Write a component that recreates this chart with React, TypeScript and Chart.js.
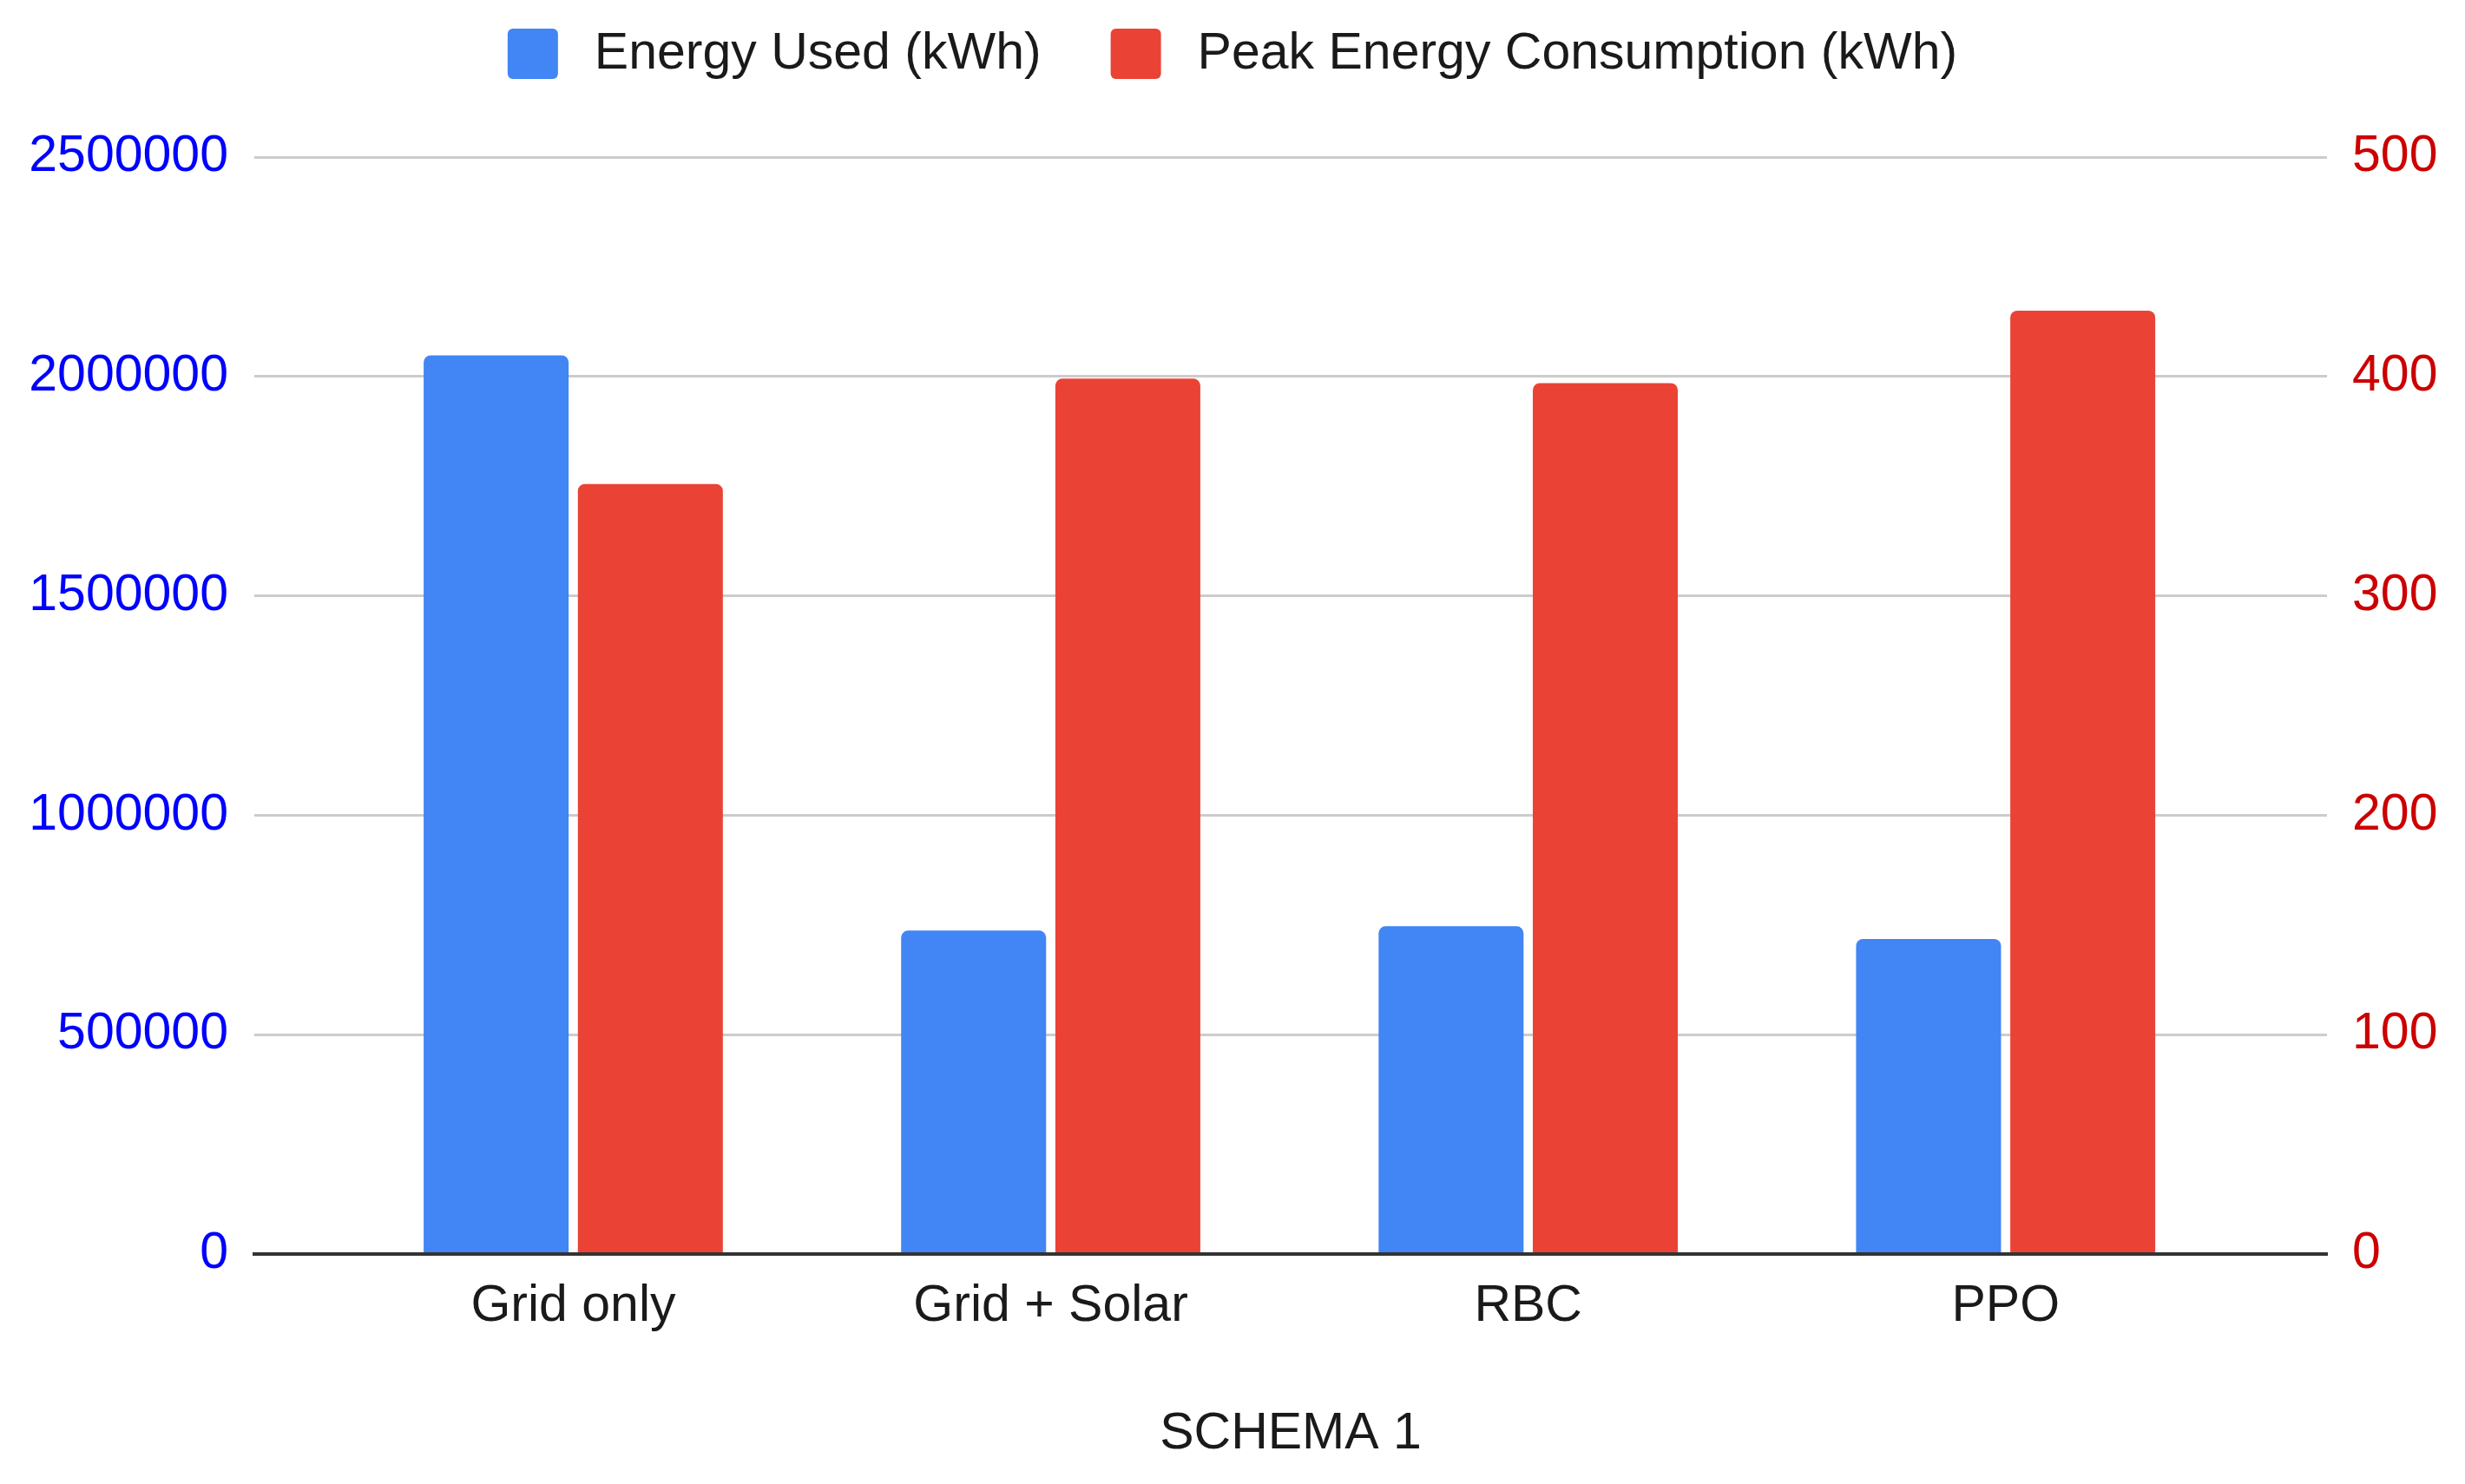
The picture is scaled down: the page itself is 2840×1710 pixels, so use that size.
import React, { useEffect, useRef } from 'react';
import { Chart, registerables } from 'chart.js';

Chart.register(...registerables);

// ---- data ----
const categories = ['Grid only', 'Grid + Solar', 'RBC', 'PPO'];
const energyUsed = [2048000, 737000, 747000, 718000];
const peakEnergy = [351, 399, 397, 430];
const leftTicks = [0, 500000, 1000000, 1500000, 2000000, 2500000];
const rightTicks = [0, 100, 200, 300, 400, 500];
const seriesLabels = ['Energy Used (kWh)', 'Peak Energy Consumption (kWh)'];
const xTitle = 'SCHEMA 1';

const FONT_FAMILY = '"Liberation Sans", Arial, sans-serif';
const FONT_SIZE = 59;
const BLUE = '#4285F4';
const RED = '#EA4335';
const TEXT = '#1a1a1a';

const legendPlugin = {
  id: 'sheetLegend',
  afterDraw(chart: any) {
    const { ctx } = chart;
    const box = 58;
    const textGap = 42;
    const itemGap = 80;
    const cy = 62;
    ctx.save();
    ctx.font = `${FONT_SIZE}px ${FONT_FAMILY}`;
    ctx.textBaseline = 'middle';
    ctx.textAlign = 'left';
    const items = chart.data.datasets.map((ds: any) => ({
      text: String(ds.label),
      color: ds.backgroundColor as string,
    }));
    const widths = items.map((it: any) => box + textGap + ctx.measureText(it.text).width);
    const total = widths.reduce((a: number, b: number) => a + b, 0) + itemGap * (items.length - 1);
    let x = (chart.width - total) / 2;
    items.forEach((it: any, i: number) => {
      ctx.fillStyle = it.color;
      ctx.beginPath();
      if (ctx.roundRect) ctx.roundRect(x, cy - box / 2, box, box, 6);
      else ctx.rect(x, cy - box / 2, box, box);
      ctx.fill();
      ctx.fillStyle = TEXT;
      ctx.fillText(it.text, x + box + textGap, cy + 1);
      x += widths[i] + itemGap;
    });
    ctx.restore();
  },
};

export default function App() {
  const ref = useRef<HTMLCanvasElement>(null);

  useEffect(() => {
    const font = { family: FONT_FAMILY, size: FONT_SIZE };
    const chart = new Chart(ref.current as HTMLCanvasElement, {
      type: 'bar',
      data: {
        datasets: [
          {
            label: seriesLabels[0],
            data: energyUsed.map((v, i) => ({ x: i, y: v })),
            backgroundColor: BLUE,
            yAxisID: 'yLeft',
            borderRadius: 8,
            categoryPercentage: 0.646,
            barPercentage: 0.94,
          },
          {
            label: seriesLabels[1],
            data: peakEnergy.map((v, i) => ({ x: i, y: v })),
            backgroundColor: RED,
            yAxisID: 'yRight',
            borderRadius: 8,
            categoryPercentage: 0.646,
            barPercentage: 0.94,
          },
        ],
      } as any,
      options: {
        animation: false,
        responsive: true,
        maintainAspectRatio: false,
        devicePixelRatio: 1,
        layout: { padding: { top: 181, left: 0, right: 0, bottom: 0 } },
        plugins: {
          legend: { display: false },
          tooltip: { enabled: false },
        },
        scales: {
          x: {
            type: 'linear',
            position: 'bottom',
            min: -0.668,
            max: 3.673,
            offset: false,
            grid: { display: false, drawTicks: false },
            border: { display: true, color: '#333333', width: 4, z: 1 },
            afterBuildTicks: (s: any) => {
              s.ticks = categories.map((_, i) => ({ value: i }));
            },
            ticks: {
              autoSkip: false,
              maxRotation: 0,
              minRotation: 0,
              padding: 25,
              color: TEXT,
              font,
              callback: (v: any) => categories[v as number] ?? '',
            },
            title: {
              display: true,
              text: xTitle,
              color: TEXT,
              font,
              padding: { top: 76.8, bottom: 21.6 },
            },
            afterFit: (s: any) => {
              s.height = 265;
            },
          },
          yLeft: {
            type: 'linear',
            position: 'left',
            min: 0,
            max: 2500000,
            afterBuildTicks: (s: any) => {
              s.ticks = leftTicks.map((v) => ({ value: v }));
            },
            grid: {
              color: (c: any) => (c.tick && c.tick.value === 0 ? 'rgba(0,0,0,0)' : '#cccccc'),
              lineWidth: 3,
              drawTicks: false,
            },
            border: { display: false },
            ticks: {
              autoSkip: false,
              color: '#0000ff',
              padding: 30,
              font,
              callback: (v: any) => String(v),
            },
            afterFit: (s: any) => {
              s.width = 293;
            },
          },
          yRight: {
            type: 'linear',
            position: 'right',
            min: 0,
            max: 500,
            afterBuildTicks: (s: any) => {
              s.ticks = rightTicks.map((v) => ({ value: v }));
            },
            grid: { display: false, drawTicks: false },
            border: { display: false },
            ticks: {
              autoSkip: false,
              color: '#cc0000',
              padding: 29,
              font,
              callback: (v: any) => String(v),
            },
            afterFit: (s: any) => {
              s.width = 159;
            },
          },
        },
      } as any,
      plugins: [legendPlugin],
    });
    return () => chart.destroy();
  }, []);

  return (
    <div
      style={{
        position: 'fixed',
        left: 0,
        top: 0,
        width: '2840px',
        height: '1710px',
        background: '#ffffff',
      }}
    >
      <canvas ref={ref} />
    </div>
  );
}
